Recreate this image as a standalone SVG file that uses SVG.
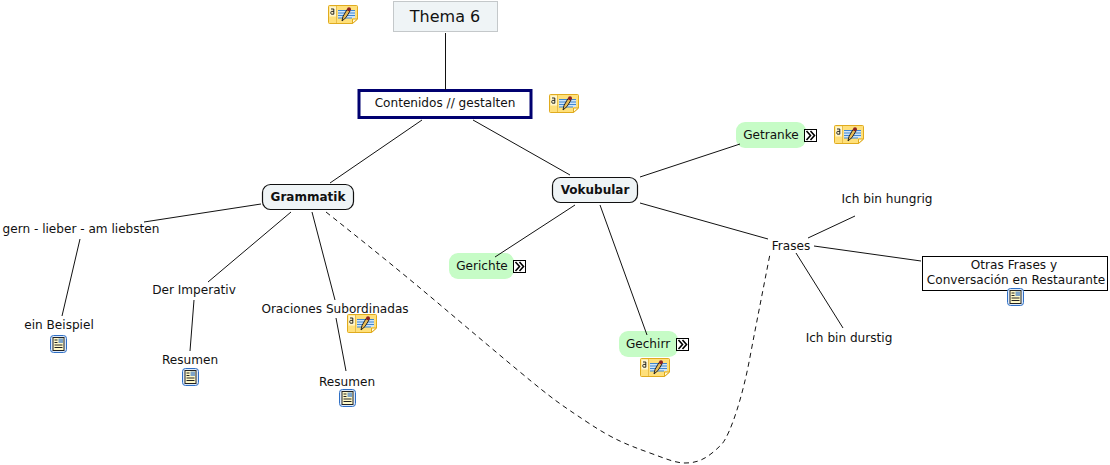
<svg xmlns="http://www.w3.org/2000/svg" width="1110" height="465" viewBox="0 0 1110 465">
<style>
text{font-family:"DejaVu Sans",Verdana,sans-serif;font-size:12.1px;fill:#111;text-anchor:middle}
.c{fill:none;stroke:#111;stroke-width:1}
.b{font-weight:bold;font-size:12px}
.g{fill:#c6fcc6}
.m{fill:#eff4f6;stroke:#111;stroke-width:1.2}
</style>
<defs>
<symbol id="note" width="30" height="20" viewBox="0 0 30 20">
<path d="M.5 1.500Q.5 .5 1.500 .5H28.500Q29.500 .5 29.500 1.500V14L24.500 18.500H1.500Q.5 18.500 .5 17.500Z" fill="#ffe07a" stroke="#e0ab1e"/>
<path d="M8.500 1V18" stroke="#e8be4a"/>
<path d="M24.500 18.500V14H29.500Z" fill="#fff8d8" stroke="#e0ab1e"/>
<rect x="1.500" y="1.500" width="6.500" height="10" fill="#fff6cc"/>
<path d="M3 4H5.800V9.200H3.600Q2.800 9.200 2.800 8V7.400Q2.800 6.400 3.600 6.400H5.800" fill="none" stroke="#111" stroke-width=".9"/>
<rect x="10" y="5" width="17" height="8" fill="#cfe4f8"/>
<path d="M10 5.500H27M10 8H27M10 10.500H27M10 13H24" stroke="#3f86d0"/>
<path d="M14 16L15 11.500L19 4.500L22 6L18 12.500Z" fill="#e9bc55" stroke="#222" stroke-width="1"/>
<circle cx="21" cy="4.200" r="2" fill="#8d2020"/>
</symbol>
<symbol id="doc" width="17" height="18" viewBox="0 0 17 18">
<rect x=".5" y=".5" width="16" height="17" rx="3" fill="#dbe9fb" stroke="#2f6fc5"/>
<rect x="3" y="2.500" width="11" height="13" fill="#fff9c8" stroke="#222" stroke-width="1"/>
<rect x="8.500" y="3.500" width="4.500" height="4.500" fill="#7da4c8"/>
<path d="M4.500 5H7.500M4.500 7.500H7.500M4.500 10H12.500M4.500 12.500H12.500" stroke="#222"/>
</symbol>
<symbol id="exp" width="13" height="13" viewBox="0 0 13 13">
<rect x=".5" y=".5" width="12" height="12" fill="#fff" stroke="#000"/>
<path d="M2.500 2L6.500 6.500L2.500 11M6.500 2L10.500 6.500L6.500 11" fill="none" stroke="#000" stroke-width="1.600"/>
</symbol>
</defs>
<g id="thema"><rect x="393.500" y="1.500" width="104" height="30" fill="#eff4f6" stroke="#c4c8ca"/><text x="445" y="22" style="font-size:16px">Thema 6</text><use href="#note" x="328" y="5"/></g>
<g id="contenidos"><rect x="359" y="90.500" width="172" height="27" fill="#fff" stroke="#000070" stroke-width="3"/><text x="445" y="107">Contenidos // gestalten</text><use href="#note" x="549" y="94"/></g>
<g id="grammatik"><rect x="262.500" y="184.500" width="91" height="25" rx="8" class="m"/><text class="b" x="308" y="201">Grammatik</text></g>
<g id="vokubular"><rect x="552.500" y="177.500" width="85" height="25" rx="8" class="m"/><text class="b" x="595" y="194">Vokubular</text></g>
<g id="getranke"><rect x="736" y="122" width="70" height="26" rx="9" class="g"/><text x="771" y="139">Getranke</text><use href="#exp" x="804" y="129"/><use href="#note" x="834" y="125"/></g>
<g id="gerichte"><rect x="449" y="253" width="65" height="26" rx="9" class="g"/><text x="482" y="270">Gerichte</text><use href="#exp" x="513" y="260"/></g>
<g id="gechirr"><rect x="619" y="331" width="59" height="26" rx="9" class="g"/><text x="648" y="348">Gechirr</text><use href="#exp" x="676" y="338"/><use href="#note" x="640" y="358"/></g>
<g id="gern"><text x="81" y="233">gern - lieber - am liebsten</text></g>
<g id="beispiel"><text x="59" y="329">ein Beispiel</text><use href="#doc" x="50" y="335"/></g>
<g id="imperativ"><text x="194" y="294">Der Imperativ</text></g>
<g id="resumen1"><text x="190" y="364">Resumen</text><use href="#doc" x="182" y="368"/></g>
<g id="oraciones"><text x="335" y="313">Oraciones Subordinadas</text><use href="#note" x="347" y="314"/></g>
<g id="resumen2"><text x="347" y="386">Resumen</text><use href="#doc" x="339" y="389"/></g>
<g id="frases"><text x="791" y="250">Frases</text></g>
<g id="hungrig"><text x="887" y="203">Ich bin hungrig</text></g>
<g id="durstig"><text x="849" y="342">Ich bin durstig</text></g>
<g id="otras"><rect x="922.500" y="256.500" width="185" height="34" fill="#fff" stroke="#000"/><text x="1014" y="269">Otras Frases y</text><text x="1016" y="284">Conversación en Restaurante</text><use href="#doc" x="1007" y="288"/></g>
<g id="connectors">
<path class="c" d="M445.500 33V90"/>
<path class="c" d="M422 120L330 183"/>
<path class="c" d="M473 120L570 175"/>
<path class="c" d="M261 204L144 222"/>
<path class="c" d="M80 239L62 316"/>
<path class="c" d="M291 212L208 282"/>
<path class="c" d="M194 300L190 351"/>
<path class="c" d="M312 212L335 300"/>
<path class="c" d="M336 318L346 371"/>
<path class="c" d="M575 205L495 257"/>
<path class="c" d="M600 205L647 335"/>
<path class="c" d="M640 177L740 144"/>
<path class="c" d="M640 203L768 239"/>
<path class="c" d="M808 238L855 216"/>
<path class="c" d="M814 246L921 261"/>
<path class="c" d="M796 253L843 328"/>
<path class="c" stroke-dasharray="5 4" d="M326 212C360 239 390 263 420 288S485 343 520 372S560 404 587 422S628 445 650 453C664 458 675 463 685 463C699 463 708 458 722 444C731 433 743 395 750 357C757 320 763 290 770 254"/>
</g>
</svg>
